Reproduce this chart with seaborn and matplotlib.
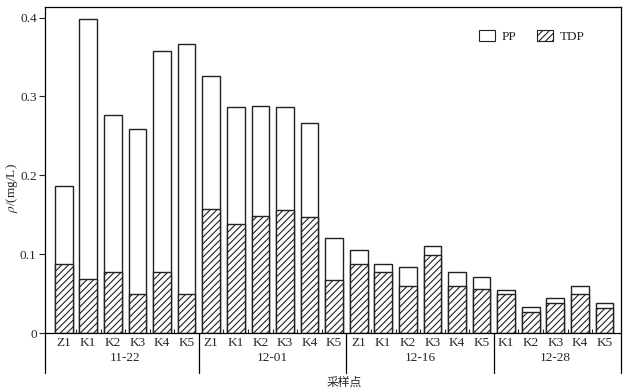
import numpy as np
import pandas as pd
import matplotlib
matplotlib.use("Agg")
import matplotlib.pyplot as plt
import matplotlib.transforms as mtransforms
from matplotlib.patches import Patch
import seaborn as sns

# sampling dates and sites
dates = ["11-22", "12-01", "12-16", "12-28"]
sites_1122 = ["Z1", "K1", "K2", "K3", "K4", "K5"]
sites_1201 = ["Z1", "K1", "K2", "K3", "K4", "K5"]
sites_1216 = ["Z1", "K1", "K2", "K3", "K4", "K5"]
sites_1228 = ["K1", "K2", "K3", "K4", "K5"]

# dissolved (TDP) and particulate (PP) phosphorus, mg/L
tdp = [0.088, 0.068, 0.078, 0.049, 0.078, 0.049,
       0.157, 0.138, 0.149, 0.156, 0.147, 0.067,
       0.088, 0.077, 0.060, 0.099, 0.060, 0.056,
       0.050, 0.027, 0.038, 0.050, 0.032]
pp = [0.099, 0.330, 0.198, 0.210, 0.280, 0.317,
      0.169, 0.148, 0.139, 0.130, 0.119, 0.053,
      0.017, 0.010, 0.024, 0.011, 0.017, 0.015,
      0.005, 0.006, 0.007, 0.010, 0.006]

groups = [sites_1122, sites_1201, sites_1216, sites_1228]
site_col, date_col = [], []
for d, s in zip(dates, groups):
    site_col += s
    date_col += [d] * len(s)

df = pd.DataFrame({"date": date_col, "site": site_col, "TDP": tdp, "PP": pp})
df["total"] = df["TDP"] + df["PP"]
df["id"] = df["date"] + " " + df["site"]

sns.set_style("white")
plt.rcParams["font.family"] = ["Liberation Serif", "Noto Sans CJK SC"]
plt.rcParams["mathtext.fontset"] = "stix"
plt.rcParams["hatch.linewidth"] = 0.8
plt.rcParams["hatch.color"] = "black"

fig = plt.figure(figsize=(6.28, 3.91), dpi=100)
ax = fig.add_axes([0.0717, 0.1483, 0.9167, 0.833])

order = list(df["id"])
sns.barplot(data=df, x="id", y="total", order=order, color="white", saturation=1,
            edgecolor="#222222", linewidth=1.0, width=0.72, ax=ax, errorbar=None)
sns.barplot(data=df, x="id", y="TDP", order=order, color="white", saturation=1,
            edgecolor="#222222", linewidth=1.0, width=0.72, hatch="/////", ax=ax,
            errorbar=None)

n = len(df)
ax.set_xlim(-0.76, n - 1 + 0.66)
ax.set_ylim(0, 0.413)
ax.set_yticks([0, 0.1, 0.2, 0.3, 0.4])
ax.set_yticklabels(["0", "0.1", "0.2", "0.3", "0.4"])
ax.set_xticks(range(n))
ax.set_xticklabels(df["site"])
ax.tick_params(axis="x", which="major", length=0, pad=3, labelsize=9.5)
ax.tick_params(axis="y", which="major", direction="out", length=4, width=0.8,
               left=True, pad=2, labelsize=9.5)

bounds = np.cumsum([len(g) for g in groups])[:-1] - 0.5
minor = [i + 0.5 for i in range(n - 1) if (i + 0.5) not in bounds]
ax.set_xticks(minor, minor=True)
ax.tick_params(axis="x", which="minor", direction="in", length=3, width=0.8,
               bottom=True)

for sp in ax.spines.values():
    sp.set_visible(True)
    sp.set_color("black")
    sp.set_linewidth(0.9)

ax.set_xlabel("")
ax.set_ylabel(r"$\rho$/(mg/L)", fontsize=9.5)
ax.yaxis.set_label_coords(-0.044, 0.445)

# group labels and separators under the axis
trans = mtransforms.blended_transform_factory(ax.transData, ax.transAxes)
low = -0.123
start = 0
for d, g in zip(dates, groups):
    mid = start + (len(g) - 1) / 2
    ax.text(mid, -0.076, d, transform=trans, ha="center", va="center", fontsize=9.5)
    start += len(g)
for b in bounds:
    ax.plot([b, b], [0, low], transform=trans, color="black", lw=0.9, clip_on=False)
ax.plot([0, 0], [0, low], transform=ax.transAxes, color="black", lw=0.9, clip_on=False)
ax.plot([1, 1], [0, low], transform=ax.transAxes, color="black", lw=0.9, clip_on=False)

fig.text(344 / 628, 1 - 382 / 391, "采样点", ha="center", va="center",
         fontsize=8.5, family=["Noto Sans CJK SC"])

handles = [Patch(facecolor="white", edgecolor="#222222", linewidth=0.8, label="PP"),
           Patch(facecolor="white", edgecolor="#222222", linewidth=0.8, hatch="/////",
                 label="TDP")]
ax.legend(handles=handles, loc="upper left", bbox_to_anchor=(0.745, 0.946), ncol=2,
          frameon=False, fontsize=9.5, handlelength=1.2, handleheight=0.85,
          handletextpad=0.5, columnspacing=1.6, borderaxespad=0)

fig.savefig("out.png", dpi=100)
